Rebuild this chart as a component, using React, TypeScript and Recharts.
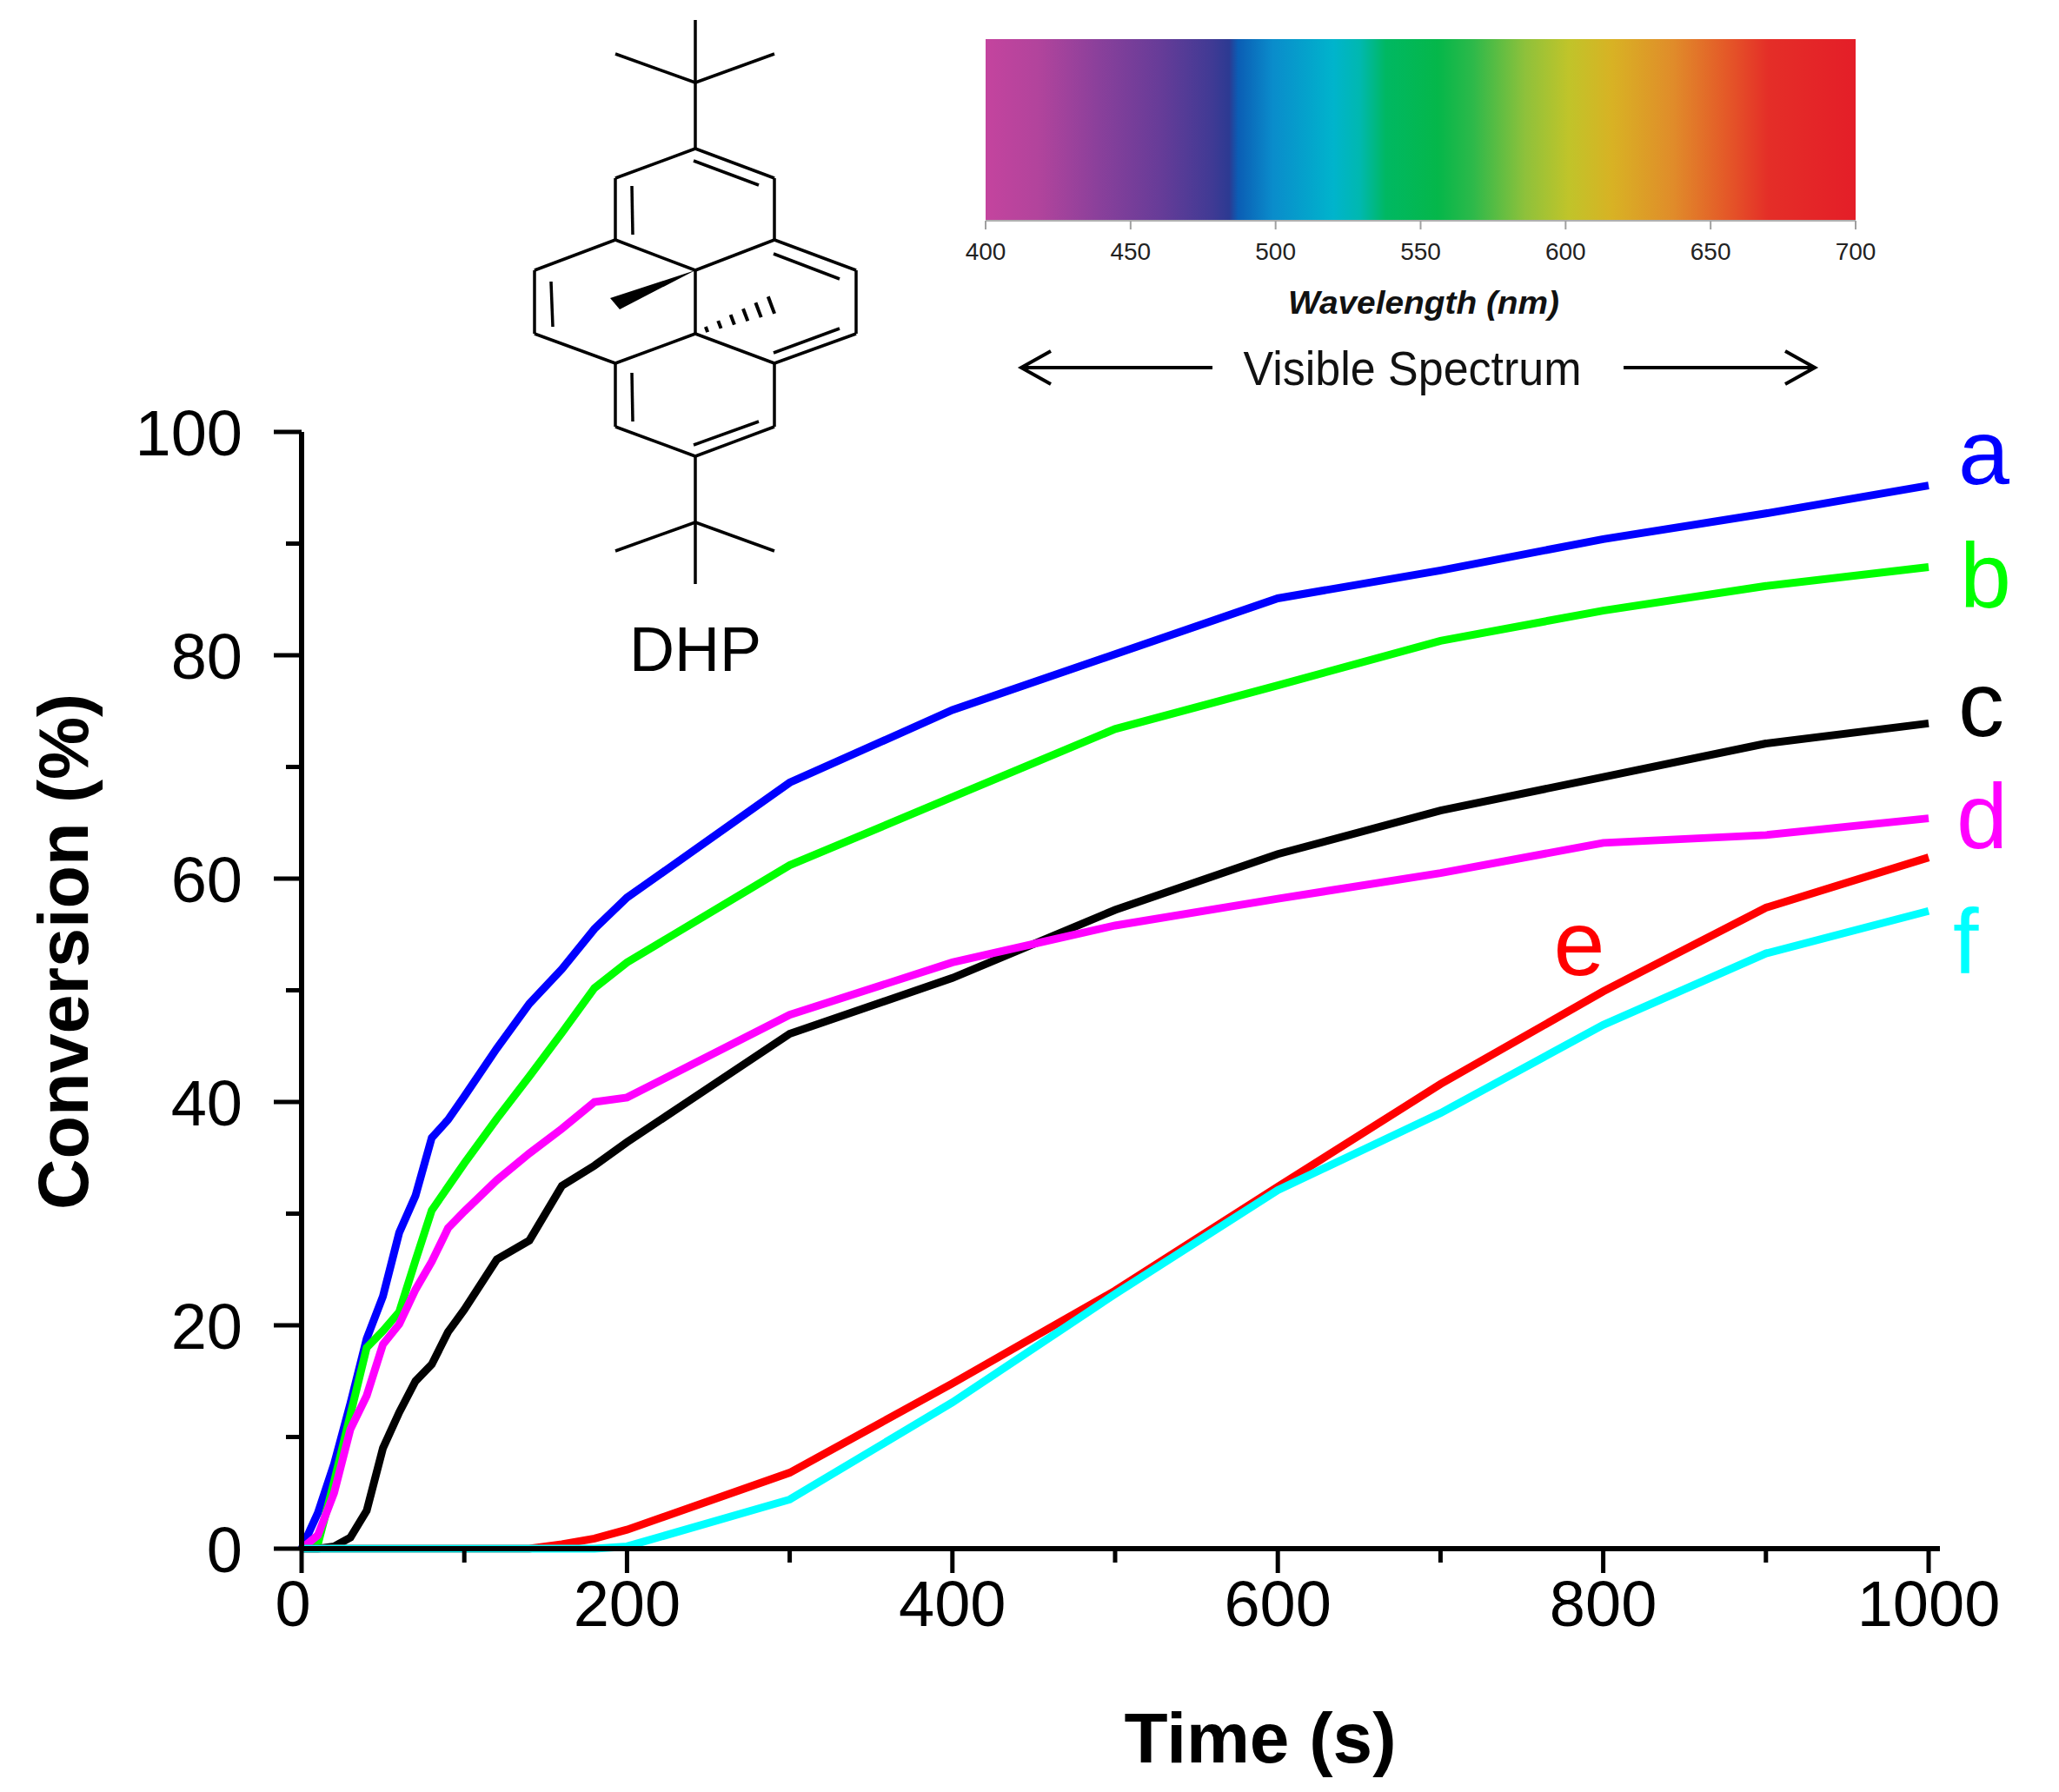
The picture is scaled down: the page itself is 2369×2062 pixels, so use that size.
import React from "react";
import { LineChart, Line, XAxis, YAxis, Label } from "recharts";

// time axis (s)
const times = [0, 10, 20, 30, 40, 50, 60, 70, 80, 90, 100, 120, 140, 160, 180, 200, 300, 400, 500, 600, 700, 800, 900, 1000];

// conversion (%) per curve
const curveA = [0, 3.2, 7.6, 13, 18.8, 22.6, 28.3, 31.6, 36.8, 38.4, 40.5, 44.8, 48.8, 51.9, 55.5, 58.3, 68.6, 75.1, 80.1, 85.1, 87.6, 90.4, 92.7, 95.2];
const curveB = [0, 0.4, 6, 12, 18, 19.5, 21.2, 25.8, 30.3, 32.4, 34.5, 38.5, 42.3, 46.2, 50.2, 52.5, 61.2, 67.3, 73.4, 77.3, 81.3, 84, 86.2, 87.9];
const curveC = [0, 0, 0.2, 1, 3.4, 9, 12.2, 15, 16.5, 19.4, 21.4, 25.9, 27.6, 32.5, 34.3, 36.4, 46.1, 51.1, 57.2, 62.2, 66.1, 69.1, 72.1, 73.9];
const curveD = [0, 1.2, 5, 10.7, 13.7, 18.3, 20.1, 23.2, 25.7, 28.7, 30.2, 33, 35.4, 37.6, 40, 40.4, 47.8, 52.5, 55.8, 58.2, 60.5, 63.2, 63.9, 65.4];
const curveE = [0, 0, 0, 0, 0, 0, 0, 0, 0, 0, 0, 0, 0, 0.4, 0.9, 1.7, 6.8, 14.8, 23.1, 32.4, 41.6, 49.9, 57.4, 61.9];
const curveF = [0, 0, 0, 0, 0, 0, 0, 0, 0, 0, 0, 0, 0, 0, 0, 0.2, 4.4, 13.1, 22.8, 32.1, 39, 46.9, 53.3, 57.1];

const xTicks = [0, 100, 200, 300, 400, 500, 600, 700, 800, 900, 1000];
const yTicks = [0, 10, 20, 30, 40, 50, 60, 70, 80, 90, 100];
const nmTicks = [400, 450, 500, 550, 600, 650, 700];

const data = times.map((t, i) => ({
  t,
  a: curveA[i],
  b: curveB[i],
  c: curveC[i],
  d: curveD[i],
  e: curveE[i],
  f: curveF[i],
}));

const FONT = "'Liberation Sans', Arial, Helvetica, sans-serif";

const YTick = (props: any) => {
  const { x, y, payload } = props;
  const major = payload.value % 20 === 0;
  return (
    <g>
      <line x1={x - (major ? 32 : 18)} x2={x} y1={y} y2={y} stroke="#000" strokeWidth={5} />
      {major && (
        <text x={x - 68} y={y} dy="0.36em" textAnchor="end" fontSize={74} fontFamily={FONT} fill="#000">
          {payload.value}
        </text>
      )}
    </g>
  );
};

const XTick = (props: any) => {
  const { x, y, payload } = props;
  const major = payload.value % 200 === 0;
  return (
    <g>
      <line x1={x} x2={x} y1={y} y2={y + (major ? 28 : 16)} stroke="#000" strokeWidth={5} />
      {major && (
        <text x={payload.value === 0 ? x - 10 : x} y={y + 89} textAnchor="middle" fontSize={74} fontFamily={FONT} fill="#000">
          {payload.value}
        </text>
      )}
    </g>
  );
};

const tagAt = (letter: string, color: string, index: number, dx: number, dy: number) => (props: any) => {
  if (props.index !== index) return null;
  return (
    <text x={props.x + dx} y={props.y + dy} fill={color} fontSize={106} fontFamily={FONT}>
      {letter}
    </text>
  );
};

// DHP skeleton (drawing only)
const bonds = [
  [800, 23, 800, 171], [708, 62, 800, 95], [800, 95, 891, 62],
  [800, 171, 891, 205], [891, 205, 891, 276], [891, 276, 800, 311], [800, 311, 708, 276], [708, 276, 708, 205], [708, 205, 800, 171],
  [798, 185, 873, 213], [727, 214, 728, 270],
  [708, 276, 615, 311], [615, 311, 615, 384], [615, 384, 708, 418], [708, 418, 800, 384], [800, 384, 800, 311],
  [634, 324, 636, 376],
  [891, 276, 985, 311], [985, 311, 985, 384], [985, 384, 891, 418], [891, 418, 800, 384],
  [890, 292, 966, 321], [966, 378, 890, 406],
  [708, 418, 708, 491], [708, 491, 800, 525], [800, 525, 891, 491], [891, 491, 891, 418],
  [727, 429, 728, 485], [798, 512, 873, 485],
  [800, 525, 800, 672], [708, 634, 800, 601], [800, 601, 891, 634],
];

const hashes = [0.14, 0.3, 0.46, 0.62, 0.78, 0.94].map((t) => {
  const cx = 800 + 93 * t;
  const cy = 384 - 35 * t;
  const h = 2 + 9 * t;
  return [cx - 0.352 * h, cy - 0.936 * h, cx + 0.352 * h, cy + 0.936 * h];
});

const spectrumStops = [
  [0, "#c4449e"], [0.06, "#b2449c"], [0.13, "#8a409b"], [0.2, "#673c98"], [0.26, "#403a94"], [0.28, "#2c3a92"],
  [0.29, "#0b5db4"], [0.33, "#0a8ccb"], [0.4, "#00b4cc"], [0.43, "#00b8b0"], [0.46, "#00b862"], [0.52, "#05b74a"],
  [0.56, "#2db94a"], [0.62, "#8ec13b"], [0.67, "#c0c42a"], [0.72, "#d8b224"], [0.79, "#e08c2a"], [0.85, "#e45a28"],
  [0.9, "#e42e28"], [1, "#e41e28"],
];

const Decorations = () => {
  const barX = 1134;
  const barW = 1001;
  return (
    <svg width={2369} height={2062} style={{ position: "absolute", left: 0, top: 0, pointerEvents: "none" }}>
      <defs>
        <linearGradient id="spec" x1="0" x2="1" y1="0" y2="0">
          {spectrumStops.map(([o, c]) => (
            <stop key={String(o)} offset={Number(o)} stopColor={String(c)} />
          ))}
        </linearGradient>
      </defs>
      {/* axis runs a little past 1000 */}
      <line x1={2216} x2={2232} y1={1782} y2={1782} stroke="#000" strokeWidth={6} />
      <g stroke="#000" strokeWidth={3.5} strokeLinecap="butt" fill="none">
        {bonds.map((b, i) => (
          <line key={i} x1={b[0]} y1={b[1]} x2={b[2]} y2={b[3]} />
        ))}
        {hashes.map((b, i) => (
          <line key={"h" + i} x1={b[0]} y1={b[1]} x2={b[2]} y2={b[3]} strokeWidth={4} />
        ))}
      </g>
      <polygon points="800,311 702,343 713,356" fill="#000" />
      <text x={800} y={772} textAnchor="middle" fontSize={72} fontFamily={FONT} fill="#000">DHP</text>

      <rect x={barX} y={45} width={barW} height={208} fill="url(#spec)" />
      <line x1={barX} x2={barX + barW} y1={254} y2={254} stroke="#b0b0b0" strokeWidth={2} />
      {nmTicks.map((nm) => {
        const x = barX + ((nm - 400) / 300) * barW;
        return (
          <g key={nm}>
            <line x1={x} x2={x} y1={254} y2={264} stroke="#a0a0a0" strokeWidth={2} />
            <text x={x} y={299} textAnchor="middle" fontSize={28} fontFamily={FONT} fill="#222">{nm}</text>
          </g>
        );
      })}
      <text x={1638} y={361} textAnchor="middle" fontSize={37} fontWeight="bold" fontStyle="italic" fontFamily={FONT} fill="#111" textLength={312} lengthAdjust="spacingAndGlyphs">
        Wavelength (nm)
      </text>
      <text x={1625} y={443} textAnchor="middle" fontSize={55} fontFamily={FONT} fill="#111" textLength={389} lengthAdjust="spacingAndGlyphs">
        Visible Spectrum
      </text>
      <g stroke="#000" strokeWidth={4} fill="none">
        <line x1={1176} x2={1395} y1={423} y2={423} />
        <polyline points="1209,404 1175,423 1209,442" />
        <line x1={1868} x2={2087} y1={423} y2={423} />
        <polyline points="2054,404 2088,423 2054,442" />
      </g>
    </svg>
  );
};

export default function App() {
  return (
    <div style={{ position: "relative", width: 2369, height: 2062, background: "#fff" }}>
      <style>{"body{margin:0}"}</style>
      <LineChart width={2369} height={2062} data={data} margin={{ top: 497, right: 150, bottom: 0, left: 0 }}>
        <XAxis
          dataKey="t"
          type="number"
          domain={[0, 1000]}
          ticks={xTicks}
          interval={0}
          height={280}
          tickSize={0}
          tickMargin={0}
          tickLine={false}
          tick={<XTick />}
          axisLine={{ stroke: "#000", strokeWidth: 6 }}
        >
          <Label
            content={() => (
              <text x={1450} y={2028} textAnchor="middle" fontSize={82} fontWeight="bold" fontFamily={FONT} fill="#000">
                Time (s)
              </text>
            )}
          />
        </XAxis>
        <YAxis
          type="number"
          domain={[0, 100]}
          ticks={yTicks}
          interval={0}
          width={347}
          tickSize={0}
          tickMargin={0}
          tickLine={false}
          tick={<YTick />}
          axisLine={{ stroke: "#000", strokeWidth: 6 }}
        >
          <Label
            content={() => (
              <text
                x={72}
                y={1095}
                transform="rotate(-90 72 1095)"
                dy="0.36em"
                textAnchor="middle"
                fontSize={81}
                fontWeight="bold"
                fontFamily={FONT}
                fill="#000"
              >
                Conversion (%)
              </text>
            )}
          />
        </YAxis>
        <Line dataKey="a" stroke="#0000ff" strokeWidth={9} dot={false} isAnimationActive={false} label={tagAt("a", "#0000ff", 23, 34, -2)} />
        <Line dataKey="b" stroke="#00ff00" strokeWidth={9} dot={false} isAnimationActive={false} label={tagAt("b", "#00ff00", 23, 36, 47)} />
        <Line dataKey="c" stroke="#000000" strokeWidth={9} dot={false} isAnimationActive={false} label={tagAt("c", "#000000", 23, 34, 15)} />
        <Line dataKey="d" stroke="#ff00ff" strokeWidth={9} dot={false} isAnimationActive={false} label={tagAt("d", "#ff00ff", 23, 32, 34)} />
        <Line dataKey="e" stroke="#ff0000" strokeWidth={9} dot={false} isAnimationActive={false} label={tagAt("e", "#ff0000", 21, -57, -19)} />
        <Line dataKey="f" stroke="#00ffff" strokeWidth={9} dot={false} isAnimationActive={false} label={tagAt("f", "#00ffff", 23, 28, 72)} />
      </LineChart>
      <Decorations />
    </div>
  );
}
